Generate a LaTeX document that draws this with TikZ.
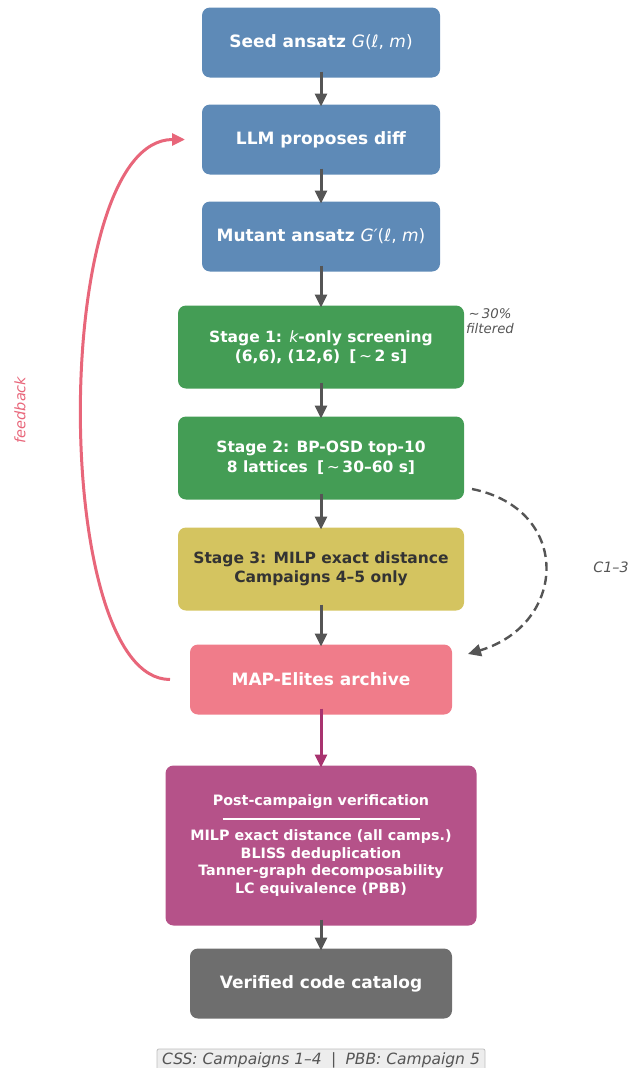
\documentclass[tikz,border=0pt]{standalone}
\usepackage{fontspec}
\setmainfont{DejaVu Sans}
\usepackage{tikz}
\usetikzlibrary{positioning,arrows.meta}

\definecolor{seedblue}{HTML}{5E8AB7}
\definecolor{stagegreen}{HTML}{449D55}
\definecolor{milpyellow}{HTML}{D4C460}
\definecolor{archivepink}{HTML}{F07C8A}
\definecolor{verifymagenta}{HTML}{B55289}
\definecolor{catalogray}{HTML}{6E6E6E}
\definecolor{flowgray}{HTML}{555555}
\definecolor{feedbackpink}{HTML}{E8667A}
\definecolor{flowpurple}{HTML}{A8336F}

\newcommand{\ansatz}[1]{{\mdseries\itshape #1\upshape(\itshape ℓ\upshape, \itshape m\upshape)}}

\begin{document}
\begin{tikzpicture}[
    x=1pt, y=-1pt,
    stepbox/.style={rounded corners=8pt, inner sep=0pt, outer sep=0pt, align=center, text=white,
        font=\fontsize{17}{20}\selectfont\bfseries, minimum width=238pt, minimum height=70pt},
    stagebox/.style={stepbox, minimum width=286pt, minimum height=83pt,
        font=\fontsize{15.5}{19.5}\selectfont\bfseries},
    flow/.style={->, >={Triangle[length=13pt,width=12pt]}, draw=flowgray, line width=3pt,
        shorten <=-6pt, shorten >=-2pt},
    sidenote/.style={font=\fontsize{13.3}{15}\selectfont\itshape, text=flowgray, align=center}
    ]
        \useasboundingbox (0,0) rectangle (639,1068);

        %Nodes
        \node[stepbox, fill=seedblue]
            (seed)  at (321,42.5)       {Seed ansatz \ansatz{G}};
        \node[stepbox, fill=seedblue]
            (llm)   [below=27pt of seed]   {LLM proposes diff};
        \node[stepbox, fill=seedblue]
            (mut)   [below=27pt of llm]    {Mutant ansatz \ansatz{G′}};
        \node[stagebox, fill=stagegreen]
            (st1)   [below=34pt of mut]    {Stage 1: {\mdseries\itshape k}-only screening\\(6,6), (12,6)\hspace{0.6em}[{\mdseries\,∼\,}2 s]};
        \node[stagebox, fill=stagegreen]
            (st2)   [below=28pt of st1]    {Stage 2: BP-OSD top-10\\8 lattices\hspace{0.6em}[{\mdseries\,∼\,}30–60 s]};
        \node[stagebox, fill=milpyellow, text=black!80]
            (st3)   [below=28pt of st2]    {Stage 3: MILP exact distance\\Campaigns 4–5 only};
        \node[stepbox, fill=archivepink, minimum width=262pt]
            (map)   [below=34pt of st3]    {MAP-Elites archive};
        \node[stepbox, fill=verifymagenta, minimum width=311pt, minimum height=160pt,
              font=\fontsize{14.3}{17.5}\selectfont\bfseries]
            (post)  [below=51pt of map]    {Post-campaign verification\\[-3.5pt]\rule{197pt}{1.5pt}\\[3.5pt]
                                            MILP exact distance (all camps.)\\BLISS deduplication\\
                                            Tanner-graph decomposability\\LC equivalence (PBB)};
        \node[stepbox, fill=catalogray, minimum width=262pt]
            (cat)   [below=23pt of post]   {Verified code catalog};
        \node[draw=black!25, line width=0.8pt, fill=black!7, rounded corners=2pt, minimum width=328pt,
              minimum height=22pt, inner sep=0pt, font=\fontsize{15.5}{17}\selectfont\itshape, text=flowgray]
            (camps) [below=30pt of cat]    {CSS: Campaigns 1–4\hspace{0.6em}|\hspace{0.6em}PBB: Campaign 5};

        %Side labels
        \node[sidenote] (filt) at (490,321) {∼\,30\%\\filtered};
        \node[sidenote, text=feedbackpink, rotate=90, font=\fontsize{14.5}{16}\selectfont\itshape]
            (fb) at (20,410) {feedback};
        \node[sidenote, font=\fontsize{14.3}{16}\selectfont\itshape] (c13) at (611,567) {C1–3};

        \coordinate (fbout) at ([xshift=-20pt]map.west);
        \coordinate (fbin)  at ([xshift=-17pt]llm.west);
        \coordinate (skipout) at (472,489);
        \coordinate (skipin)  at (468,654);

        %Lines
        \draw[flow] (seed.south) -- (llm.north);
        \draw[flow] (llm.south) -- (mut.north);
        \draw[flow] (mut.south) -- (st1.north);
        \draw[flow] (st1.south) -- (st2.north);
        \draw[flow] (st2.south) -- (st3.north);
        \draw[flow] (st3.south) -- (map.north);
        \draw[flow, draw=flowpurple] (map.south) -- (post.north);
        \draw[flow] (post.south) -- (cat.north);

        \draw[flow, draw=feedbackpink, shorten <=0pt, shorten >=0pt]
            (fbout) .. controls +(-120,0) and +(-135,0) .. (fbin);
        \draw[flow, dashed, dash pattern=on 9pt off 5pt, line width=2.4pt, shorten <=0pt, shorten >=0pt]
            (skipout) .. controls +(100,20) and +(100,-30) .. (skipin);
    \end{tikzpicture}
\end{document}
